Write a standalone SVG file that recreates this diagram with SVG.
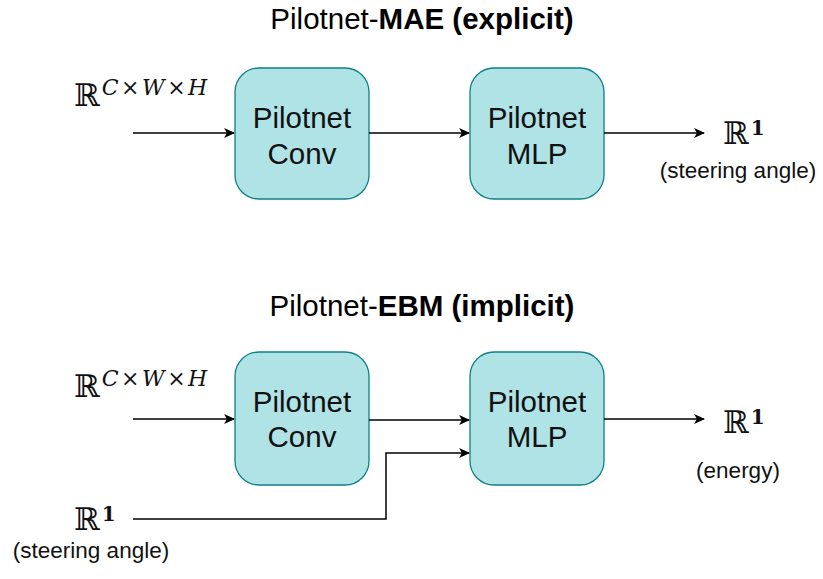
<svg xmlns="http://www.w3.org/2000/svg" width="823" height="579" viewBox="0 0 823 579">
<defs>
<marker id="ah" viewBox="0 0 10 10" refX="9" refY="5" markerWidth="11" markerHeight="11" markerUnits="userSpaceOnUse" orient="auto"><path d="M0,0.5 L10,5 L0,9.5 L2.5,5 Z" fill="#000"/></marker>
<style>
.box{fill:#b0e3e6;stroke:#0e8088;stroke-width:1.3}
.lbl{font-family:"Liberation Sans",Arial,sans-serif;font-size:29.5px;text-anchor:middle;fill:#111}
.title{font-family:"Liberation Sans",Arial,sans-serif;font-size:29.5px;text-anchor:middle;fill:#000}
.small{font-family:"Liberation Sans",Arial,sans-serif;font-size:22.5px;text-anchor:middle;fill:#111}
.math{font-family:"DejaVu Serif",serif;fill:#111;font-size:31px}
.sup{font-size:22px;font-style:italic}
.one{font-size:20px;font-weight:bold}
.edge{fill:none;stroke:#000;stroke-width:1.5}
</style>
</defs>
<rect width="823" height="579" fill="#fff"/>
<text class="title" x="422" y="29">Pilotnet-<tspan font-weight="bold">MAE (explicit)</tspan></text>
<text class="title" x="422" y="316">Pilotnet-<tspan font-weight="bold">EBM (implicit)</tspan></text>
<g id="conv1"><rect class="box" x="235" y="68" width="134" height="131" rx="24"/><text class="lbl" x="302" y="128">Pilotnet</text><text class="lbl" x="302" y="164">Conv</text></g>
<g id="mlp1"><rect class="box" x="470" y="68" width="134" height="131" rx="24"/><text class="lbl" x="537" y="128">Pilotnet</text><text class="lbl" x="537" y="164">MLP</text></g>
<g id="conv2"><rect class="box" x="235" y="352" width="134" height="133" rx="24"/><text class="lbl" x="302" y="412">Pilotnet</text><text class="lbl" x="302" y="447">Conv</text></g>
<g id="mlp2"><rect class="box" x="470" y="352" width="134" height="133" rx="24"/><text class="lbl" x="537" y="412">Pilotnet</text><text class="lbl" x="537" y="447">MLP</text></g>
<g id="in1"><text class="math" x="74" y="106">ℝ<tspan class="sup" dx="2" dy="-11" letter-spacing="2.5">C<tspan font-style="normal">×</tspan>W<tspan font-style="normal">×</tspan>H</tspan></text></g>
<g id="out1"><text class="math" x="723" y="144">ℝ<tspan class="one" dx="2" dy="-9">1</tspan></text><text class="small" x="738" y="178">(steering angle)</text></g>
<g id="in2"><text class="math" x="74" y="397">ℝ<tspan class="sup" dx="2" dy="-11" letter-spacing="2.5">C<tspan font-style="normal">×</tspan>W<tspan font-style="normal">×</tspan>H</tspan></text></g>
<g id="out2"><text class="math" x="723" y="433">ℝ<tspan class="one" dx="2" dy="-9">1</tspan></text><text class="small" x="738" y="478">(energy)</text></g>
<g id="in3"><text class="math" x="74" y="530">ℝ<tspan class="one" dx="2" dy="-9">1</tspan></text><text class="small" x="91" y="558">(steering angle)</text></g>
<g id="connectors">
<path class="edge" d="M133,133 H234" marker-end="url(#ah)"/>
<path class="edge" d="M369,133 H469" marker-end="url(#ah)"/>
<path class="edge" d="M604,133 H704" marker-end="url(#ah)"/>
<path class="edge" d="M133,419 H234" marker-end="url(#ah)"/>
<path class="edge" d="M369,420 H469" marker-end="url(#ah)"/>
<path class="edge" d="M604,419 H704" marker-end="url(#ah)"/>
<path class="edge" d="M133,519 H386 V453 H469" marker-end="url(#ah)"/>
</g>
</svg>
